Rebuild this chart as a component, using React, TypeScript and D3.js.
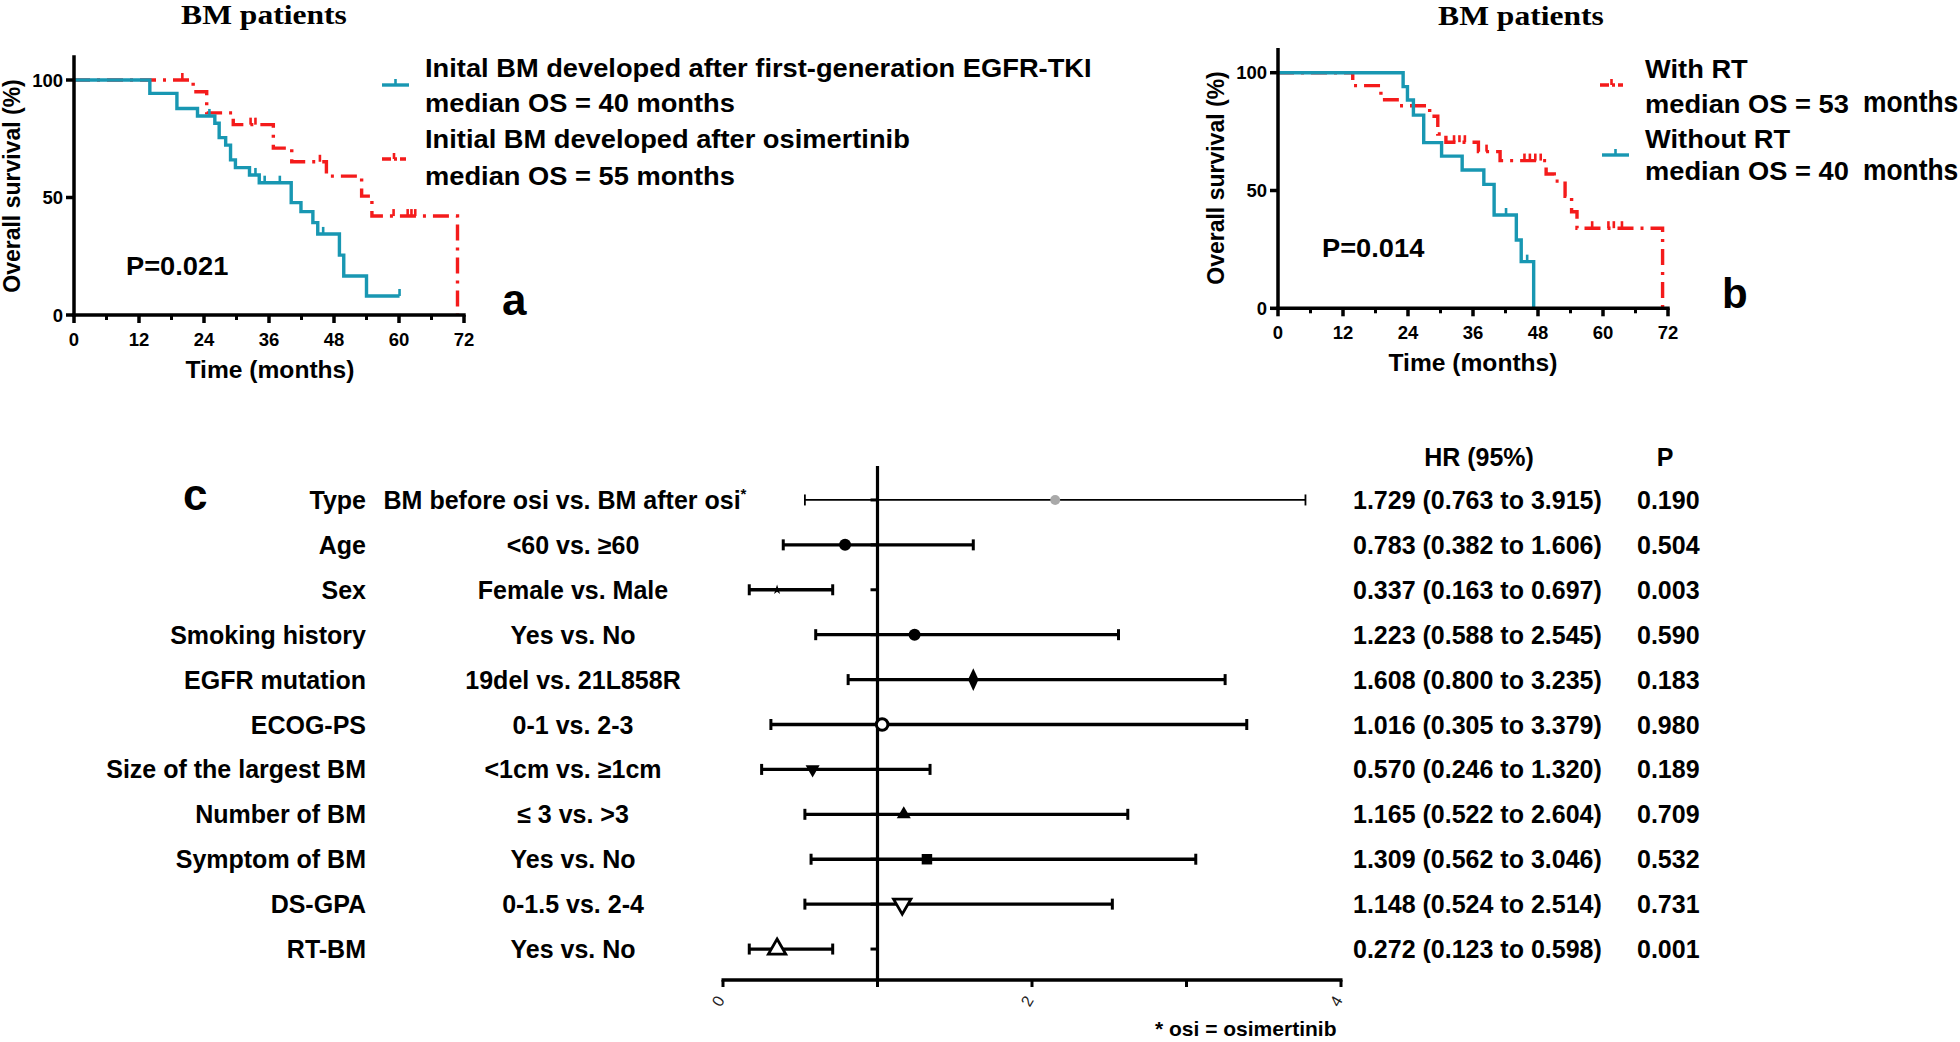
import React from "react";
import * as d3 from "d3";

// ---------------- data ----------------
const kmMajorTicks = [0, 12, 24, 36, 48, 60, 72];
const kmMinorTicks = [6, 18, 30, 42, 54, 66];
const kmYTicks = [0, 50, 100];

// Panel a: initial BM after first-generation EGFR-TKI (teal) vs after osimertinib (red)
const aFirstGenTimes = [0, 14, 19, 22.8, 26, 26.8, 28, 28.9, 29.8, 32.4, 34.2, 40.1, 41.9, 44.1, 45, 49, 49.8, 54, 60.1];
const aFirstGenSurv = [100, 94.3, 87.9, 84.7, 81.6, 75.5, 72.3, 66, 62.7, 59.6, 56.3, 47.8, 44, 39.3, 34.5, 25.5, 16.6, 8.1, 8.1];
const aFirstGenCensor = [25, 33.5, 35.2, 38, 46, 60.1];
const aOsiTimes = [0, 22, 24.5, 29.4, 36.8, 40.2, 46.6, 53.1, 55, 70.8];
const aOsiSurv = [100, 95, 86, 81, 71, 65.2, 59.1, 50.6, 42.1, 0];
const aOsiCensor = [20, 32.6, 33.5, 45.4, 59, 61.6, 62.3, 63];

// Panel b: with RT (red) vs without RT (teal)
const bRTTimes = [0, 13.8, 19, 22, 28, 29.5, 31, 37, 41, 49.5, 51, 53, 54.2, 55.2, 71];
const bRTSurv = [100, 94.5, 88.5, 86, 81.5, 74, 70.5, 66.5, 62.7, 57, 54, 47.5, 41, 34, 0];
const bRTCensor = [32.5, 33.5, 34.5, 38.5, 45.5, 46.5, 47.5, 48.5, 58, 61, 62, 63.5];
const bNoRTTimes = [0, 23.1, 23.9, 25, 26.9, 30.2, 34, 38, 39.9, 44, 44.9, 47.2];
const bNoRTSurv = [100, 94.1, 88.4, 82, 70.3, 64.6, 58.7, 52.6, 39.6, 29, 19.8, 0];
const bNoRTCensor = [42.1, 46];

// Panel c: forest plot
const factors = ["Type", "Age", "Sex", "Smoking history", "EGFR mutation", "ECOG-PS", "Size of the largest BM", "Number of BM", "Symptom of BM", "DS-GPA", "RT-BM"];
const comparisons = ["BM before osi  vs. BM after osi", "<60 vs.  ≥60", "Female vs. Male", "Yes  vs. No", "19del vs. 21L858R", "0-1 vs. 2-3", "<1cm vs.  ≥1cm", "≤ 3 vs. >3", "Yes  vs. No", "0-1.5 vs. 2-4", "Yes  vs. No"];
const hrPoint = [2.15, 0.79, 0.35, 1.24, 1.62, 1.03, 0.58, 1.17, 1.32, 1.16, 0.35];
const hrLow = [0.53, 0.39, 0.17, 0.6, 0.81, 0.31, 0.25, 0.53, 0.57, 0.53, 0.17];
const hrHigh = [3.77, 1.62, 0.71, 2.56, 3.25, 3.39, 1.34, 2.62, 3.06, 2.52, 0.71];
const hrText = ["1.729 (0.763 to 3.915)", "0.783 (0.382 to 1.606)", "0.337 (0.163 to 0.697)", "1.223 (0.588 to 2.545)", "1.608 (0.800 to 3.235)", "1.016 (0.305 to 3.379)", "0.570 (0.246 to 1.320)", "1.165 (0.522 to 2.604)", "1.309 (0.562 to 3.046)", "1.148 (0.524 to 2.514)", "0.272 (0.123 to 0.598)"];
const pText = ["0.190", "0.504", "0.003", "0.590", "0.183", "0.980", "0.189", "0.709", "0.532", "0.731", "0.001"];
const forestTicks = [0, 1, 2, 3, 4];
const forestTickLabels = [0, 2, 4];

// ---------------- styles ----------------
const SANS = "'Liberation Sans', Arial, Helvetica, sans-serif";
const SERIF = "'Liberation Serif', 'Times New Roman', serif";
const TEAL = "#1897b2";
const RED = "#f41b1b";
const RED_DASH = "16,7,3,7";
const markerShapes = ["greyCircle", "circle", "star", "circle", "diamond", "openCircle", "triDown", "tri", "square", "openTriDown", "openTri"];

type TP = { x: number; y: number; size: number; sx?: number; anchor?: string; weight?: string; family?: string; fill?: string; children?: any; rotate?: number };
function T({ x, y, size, sx = 1, anchor = "start", weight = "bold", family = SANS, fill = "#000", children, rotate = 0 }: TP) {
  return (
    <text
      transform={`translate(${x},${y}) rotate(${rotate}) scale(${sx},1)`}
      textAnchor={anchor as any}
      fontSize={size}
      fontWeight={weight}
      fontFamily={family}
      fill={fill}
    >
      {children}
    </text>
  );
}

function survAt(times: number[], surv: number[], t: number) {
  let s = surv[0];
  for (let i = 0; i < times.length; i++) if (times[i] <= t) s = surv[i];
  return s;
}

type Curve = { times: number[]; surv: number[]; censor: number[]; color: string; dash?: string };

function KMPanel({ x0, x1, y0, y100, title, titleX, titleY, yLabelX, yLabelY, xTitleX, xTitleY, curves }: any) {
  const x = d3.scaleLinear().domain([0, 72]).range([x0, x1]);
  const y = d3.scaleLinear().domain([0, 100]).range([y0, y100]);
  const line = d3
    .line<[number, number]>()
    .x((d) => x(d[0]))
    .y((d) => y(d[1]))
    .curve(d3.curveStepAfter);
  return (
    <g>
      <T x={titleX} y={titleY} size={27} sx={1.17} anchor="middle" family={SERIF}>{title}</T>
      {(curves as Curve[]).map((c, ci) => (
        <g key={ci}>
          <path
            d={line(c.times.map((t, i) => [t, c.surv[i]] as [number, number])) || ""}
            fill="none"
            stroke={c.color}
            strokeWidth={3.4}
            strokeDasharray={c.dash}
          />
          {c.censor.map((t, i) => (
            <line key={i} x1={x(t)} x2={x(t)} y1={y(survAt(c.times, c.surv, t))} y2={y(survAt(c.times, c.surv, t)) - 7} stroke={c.color} strokeWidth={2.6} />
          ))}
        </g>
      ))}
      {/* axes */}
      <line x1={x0} x2={x0} y1={y(110.5)} y2={y0 + 1.7} stroke="#000" strokeWidth={3.5} />
      <line x1={x0 - 1.7} x2={x(72) + 1.7} y1={y0} y2={y0} stroke="#000" strokeWidth={3.5} />
      {kmMajorTicks.map((t) => (
        <g key={t}>
          <line x1={x(t)} x2={x(t)} y1={y0} y2={y0 + 8} stroke="#000" strokeWidth={3.5} />
          <T x={x(t)} y={y0 + 31} size={18.5} anchor="middle">{t}</T>
        </g>
      ))}
      {kmMinorTicks.map((t) => (
        <line key={t} x1={x(t)} x2={x(t)} y1={y0} y2={y0 + 5} stroke="#000" strokeWidth={3} />
      ))}
      {kmYTicks.map((t) => (
        <g key={t}>
          <line x1={x0 - 8} x2={x0} y1={y(t)} y2={y(t)} stroke="#000" strokeWidth={3.5} />
          <T x={x0 - 11} y={y(t) + 6.5} size={18.5} anchor="end">{t}</T>
        </g>
      ))}
      <T x={yLabelX} y={yLabelY} size={23} anchor="middle" rotate={-90}>Overall survival (%)</T>
      <T x={xTitleX} y={xTitleY} size={23} sx={1.07} anchor="middle">Time (months)</T>
    </g>
  );
}

function Marker({ kind, cx, cy }: { kind: string; cx: number; cy: number }) {
  const sym = (type: any, size: number) => d3.symbol().type(type).size(size)() || "";
  switch (kind) {
    case "greyCircle":
      return <circle cx={cx} cy={cy} r={5} fill="#a9a9a9" />;
    case "circle":
      return <circle cx={cx} cy={cy} r={6} fill="#000" />;
    case "openCircle":
      return <circle cx={cx} cy={cy} r={5.8} fill="#fff" stroke="#000" strokeWidth={3} />;
    case "star":
      return <path d={sym(d3.symbolStar, 30)} transform={`translate(${cx},${cy})`} fill="#000" />;
    case "diamond":
      return <path d={sym(d3.symbolDiamond, 150)} transform={`translate(${cx},${cy}) scale(0.8,1)`} fill="#000" />;
    case "square":
      return <path d={sym(d3.symbolSquare, 110)} transform={`translate(${cx},${cy})`} fill="#000" />;
    case "tri":
      return <path d={sym(d3.symbolTriangle, 85)} transform={`translate(${cx},${cy})`} fill="#000" />;
    case "triDown":
      return <path d={sym(d3.symbolTriangle, 85)} transform={`translate(${cx},${cy}) rotate(180)`} fill="#000" />;
    case "openTri":
      return <path d={sym(d3.symbolTriangle, 130)} transform={`translate(${cx},${cy})`} fill="#fff" stroke="#000" strokeWidth={2.8} />;
    case "openTriDown":
      return <path d={sym(d3.symbolTriangle, 130)} transform={`translate(${cx},${cy}) rotate(180)`} fill="#fff" stroke="#000" strokeWidth={2.8} />;
    default:
      return null;
  }
}

function Forest() {
  const x = d3.scaleLinear().domain([0, 4]).range([723, 1341]);
  const y = d3.scaleBand<number>().domain(factors.map((_, i) => i)).range([477.5, 971.5]);
  const cy = (i: number) => (y(i) as number) + y.bandwidth() / 2;
  const axisY = 980;
  return (
    <g>
      <T x={183} y={510} size={44}>c</T>
      <T x={1479} y={466} size={25} anchor="middle">HR (95%)</T>
      <T x={1665} y={466} size={25} anchor="middle">P</T>
      {factors.map((f, i) => (
        <g key={f}>
          <T x={366} y={cy(i) + 9} size={25} anchor="end">{f}</T>
          <T x={i === 0 ? 565 : 573} y={cy(i) + 9} size={25} anchor="middle">
            {comparisons[i]}
            {i === 0 ? <tspan fontSize={15} dy={-10}>*</tspan> : null}
          </T>
          <T x={1353} y={cy(i) + 9} size={25}>{hrText[i]}</T>
          <T x={1637} y={cy(i) + 9} size={25}>{pText[i]}</T>
          {/* y-axis row tick */}
          <line x1={x(1) - 7} x2={x(1)} y1={cy(i)} y2={cy(i)} stroke="#000" strokeWidth={3} />
          {/* CI bar */}
          <line x1={x(hrLow[i])} x2={x(hrHigh[i])} y1={cy(i)} y2={cy(i)} stroke="#000" strokeWidth={i === 0 ? 1.8 : 3.3} />
          <line x1={x(hrLow[i])} x2={x(hrLow[i])} y1={cy(i) - 5.5} y2={cy(i) + 5.5} stroke="#000" strokeWidth={i === 0 ? 1.8 : 3} />
          <line x1={x(hrHigh[i])} x2={x(hrHigh[i])} y1={cy(i) - 5.5} y2={cy(i) + 5.5} stroke="#000" strokeWidth={i === 0 ? 1.8 : 3} />
        </g>
      ))}
      <line x1={x(1)} x2={x(1)} y1={466} y2={axisY + 1.5} stroke="#000" strokeWidth={3.2} />
      {factors.map((f, i) => (
        <Marker key={f} kind={markerShapes[i]} cx={x(hrPoint[i])} cy={cy(i)} />
      ))}
      <line x1={x(0) - 1.5} x2={x(4) + 1.5} y1={axisY} y2={axisY} stroke="#000" strokeWidth={3.4} />
      {forestTicks.map((t) => (
        <line key={t} x1={x(t)} x2={x(t)} y1={axisY} y2={axisY + 7} stroke="#000" strokeWidth={3} />
      ))}
      {forestTickLabels.map((t) => (
        <T key={t} x={x(t)} y={1004} size={16} weight="normal" fill="#222" anchor="middle" rotate={-60}>{t}</T>
      ))}
      <T x={1155} y={1036} size={21}>* osi = osimertinib</T>
    </g>
  );
}

function LegendSym({ x1, x2, y, color, dash }: { x1: number; x2: number; y: number; color: string; dash?: string }) {
  const m = (x1 + x2) / 2;
  return (
    <g>
      <line x1={x1} x2={x2} y1={y} y2={y} stroke={color} strokeWidth={3.4} strokeDasharray={dash} />
      <line x1={m} x2={m} y1={y} y2={y - 6} stroke={color} strokeWidth={2.6} />
    </g>
  );
}

export default function App() {
  const curvesA: Curve[] = [
    { times: aOsiTimes, surv: aOsiSurv, censor: aOsiCensor, color: RED, dash: RED_DASH },
    { times: aFirstGenTimes, surv: aFirstGenSurv, censor: aFirstGenCensor, color: TEAL },
  ];
  const curvesB: Curve[] = [
    { times: bRTTimes, surv: bRTSurv, censor: bRTCensor, color: RED, dash: RED_DASH },
    { times: bNoRTTimes, surv: bNoRTSurv, censor: bNoRTCensor, color: TEAL },
  ];
  const ks = 25.5;
  const kx = 1.07;
  return (
    <svg width={1960} height={1042} style={{ position: "absolute", left: 0, top: 0, background: "#fff" }}>
      <rect x={0} y={0} width={1960} height={1042} fill="#fff" />
      {/* Panel a */}
      <KMPanel x0={74} x1={464} y0={315} y100={80} title="BM patients" titleX={264} titleY={24}
        yLabelX={20} yLabelY={186} xTitleX={270} xTitleY={378} curves={curvesA} />
      <LegendSym x1={382} x2={409} y={85} color={TEAL} />
      <LegendSym x1={382} x2={406} y={159} color={RED} dash="9,3,3,3" />
      <T x={425} y={77} size={ks} sx={kx}>Inital BM developed after first-generation EGFR-TKI</T>
      <T x={425} y={112} size={ks} sx={kx}>median OS = 40 months</T>
      <T x={425} y={148} size={ks} sx={kx}>Initial BM developed after osimertinib</T>
      <T x={425} y={185} size={ks} sx={kx}>median OS = 55 months</T>
      <T x={126} y={275} size={ks} sx={kx}>P=0.021</T>
      <T x={502} y={315} size={44}>a</T>

      {/* Panel b */}
      <KMPanel x0={1278} x1={1668} y0={308.3} y100={72.7} title="BM patients" titleX={1521} titleY={25}
        yLabelX={1224} yLabelY={178} xTitleX={1473} xTitleY={371} curves={curvesB} />
      <LegendSym x1={1600} x2={1623} y={85} color={RED} dash="9,3,3,3" />
      <LegendSym x1={1602} x2={1629} y={155} color={TEAL} />
      <T x={1645} y={78} size={ks} sx={kx}>With RT</T>
      <T x={1645} y={113} size={ks} sx={kx}>median OS = 53</T>
      <T x={1863} y={112} size={30} sx={0.88}>months</T>
      <T x={1645} y={148} size={ks} sx={kx}>Without RT</T>
      <T x={1645} y={180} size={ks} sx={kx}>median OS = 40</T>
      <T x={1863} y={180} size={30} sx={0.88}>months</T>
      <T x={1322} y={257} size={ks} sx={kx}>P=0.014</T>
      <T x={1722} y={308} size={42}>b</T>

      {/* Panel c */}
      <Forest />
    </svg>
  );
}
